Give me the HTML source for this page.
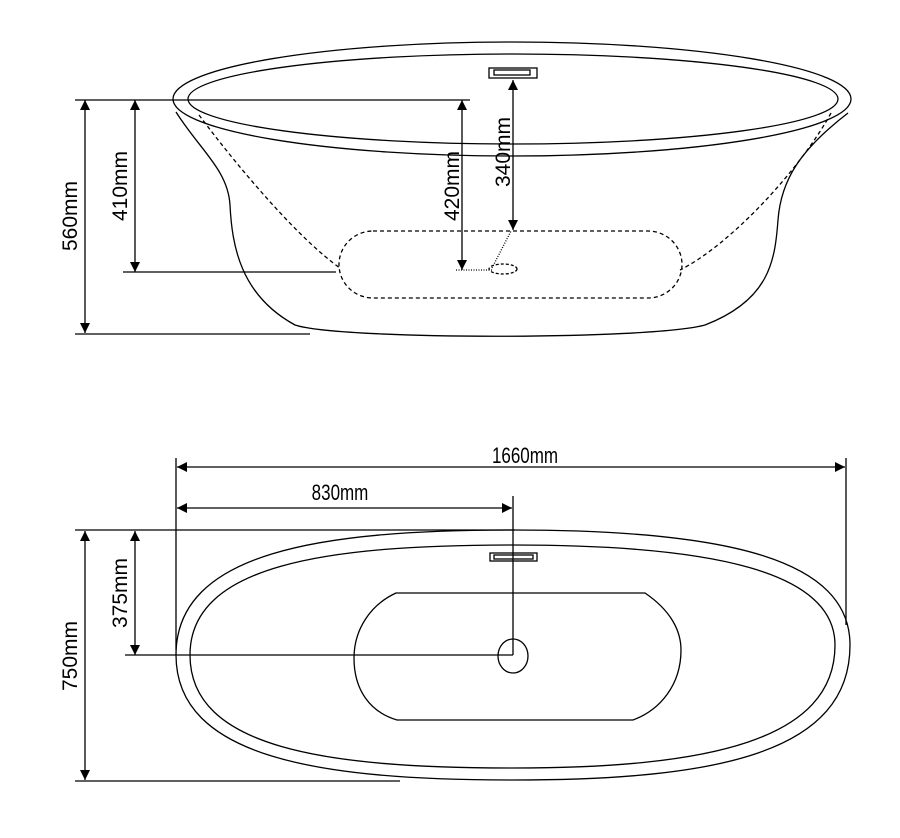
<!DOCTYPE html>
<html><head><meta charset="utf-8"><style>
html,body{margin:0;padding:0;background:#fff;}
svg{display:block}
text{font-family:"Liberation Sans",sans-serif;fill:#000}
</style></head><body>
<svg width="900" height="838" viewBox="0 0 900 838" xmlns="http://www.w3.org/2000/svg">
<defs>
<marker id="a" viewBox="0 0 10 10" refX="10" refY="5" markerWidth="14" markerHeight="10" markerUnits="userSpaceOnUse" orient="auto-start-reverse">
<path d="M0,0 L10,5 L0,10 Z" fill="#000"/></marker>
</defs>
<g fill="none" stroke="#000" stroke-width="1.3">
<!-- side view -->
<ellipse cx="512" cy="99" rx="339" ry="57"/>
<ellipse cx="513" cy="99" rx="325" ry="45"/>
<path d="M176,112 C200,150 228,170 230,205 C232,245 240,295 295,325 C340,340 650,340 705,325 C770,300 775,260 778,220 C781,180 800,150 848,113"/>
<path d="M199,115 C240,170 300,240 340,268" stroke-dasharray="4,3"/>
<path d="M831,113 C800,170 730,245 680,270" stroke-dasharray="4,3"/>
<rect x="339" y="231" width="343" height="67" rx="34" ry="34" stroke-dasharray="4,3"/>
<ellipse cx="503" cy="269" rx="14" ry="5" stroke-dasharray="3,2"/>
<path d="M456,270 L492,270 M492,268 L511,231" stroke-dasharray="1,1.5"/>
<rect x="489" y="68" width="48" height="10"/>
<rect x="494" y="70" width="36" height="5"/>
<!-- side dims -->
<path d="M75,100 H470 M75,334 H310 M123,272 H336"/>
<path d="M85,100 V333" marker-start="url(#a)" marker-end="url(#a)"/>
<path d="M135,100 V272" marker-start="url(#a)" marker-end="url(#a)"/>
<path d="M462,100 V270" marker-start="url(#a)" marker-end="url(#a)"/>
<path d="M513,80 V230" marker-start="url(#a)" marker-end="url(#a)"/>
<!-- plan view -->
<path d="M176,655 C176,552 320,530 513,530 C730,530 850,560 850,645 C850,752 720,780 513,780 C320,780 176,758 176,655 Z"/>
<path d="M190,655 C190,565 325,545 513,545 C715,545 835,572 835,645 C835,740 710,768 513,768 C325,768 190,748 190,655 Z"/>
<path d="M396,593 H645 C670,610 681,630 681,650 C681,685 660,710 633,720 H397 C370,712 354,690 354,658 C354,630 370,605 396,593 Z"/>
<ellipse cx="513" cy="656" rx="15" ry="17"/>
<rect x="490" y="553" width="47" height="8"/>
<rect x="494" y="555" width="39" height="4"/>
<path d="M176,458 V650 M846,458 V625 M513,496 V655 M75,530 H515 M75,781 H400 M125,655 H513"/>
<path d="M177,467 H845" marker-start="url(#a)" marker-end="url(#a)"/>
<path d="M177,508 H512" marker-start="url(#a)" marker-end="url(#a)"/>
<path d="M85,531 V780" marker-start="url(#a)" marker-end="url(#a)"/>
<path d="M135,531 V655" marker-start="url(#a)" marker-end="url(#a)"/>
</g>
<g font-size="21">
<text transform="translate(77,216) rotate(-90)" text-anchor="middle">560mm</text>
<text transform="translate(127,186) rotate(-90)" text-anchor="middle">410mm</text>
<text transform="translate(459,186) rotate(-90)" text-anchor="middle">420mm</text>
<text transform="translate(510,152) rotate(-90)" text-anchor="middle">340mm</text>
<text transform="translate(77,656) rotate(-90)" text-anchor="middle">750mm</text>
<text transform="translate(127,593) rotate(-90)" text-anchor="middle">375mm</text>
<text transform="translate(525,463) scale(0.85,1.1)" text-anchor="middle" font-size="20">1660mm</text>
<text transform="translate(340,500) scale(0.85,1.1)" text-anchor="middle" font-size="20">830mm</text>
</g>
</svg>
</body></html>
